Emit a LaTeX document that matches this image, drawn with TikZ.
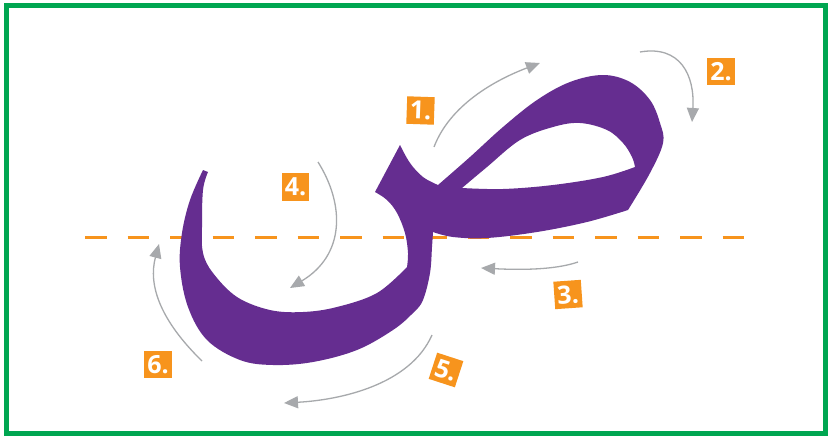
\documentclass[tikz,border=0pt]{standalone}
\usepackage{fontspec}
\setmainfont{Open Sans}
\usetikzlibrary{arrows.meta}
\definecolor{framegreen}{HTML}{00A651}
\definecolor{glyphpurple}{HTML}{652D90}
\definecolor{baseorange}{HTML}{F7941D}
\definecolor{arrowgray}{HTML}{A7A9AC}
\tikzset{
  arr/.style={draw=arrowgray, line width=1.3pt, -{Triangle[length=14pt,width=12pt]}},
  numbox/.style={fill=baseorange, text=white, minimum size=27.5pt, inner sep=0pt,
    font=\fontsize{25}{25}\selectfont\bfseries},
  baseline dash/.style={draw=baseorange, line width=3pt, dash pattern=on 21.5pt off 21pt}
}
\begin{document}
\begin{tikzpicture}[x=1pt,y=-1pt]
\useasboundingbox (0,0) rectangle (829,436);
\fill[white] (0,0) rectangle (829,436);
\draw[framegreen, line width=5pt] (6.5,5.8) rectangle (825.8,433.5);

% baseline
\coordinate (bl1) at (85,237.5);
\coordinate (bl2) at (750,237.5);
\draw[baseline dash] (bl1) -- (bl2);

% glyph
\fill[glyphpurple, even odd rule]
  (203,170) -- (208,172)
  -- plot[smooth, tension=0.6] coordinates {(208,172) (203,190) (202,227) (203,253) (213,273) (237,297) (270,310) (303,312) (337,307) (377,293) (407,267)}
  -- plot[smooth, tension=0.6] coordinates {(407,267) (408,253) (405,233) (397,213) (387,200) (375,192)}
  -- (400,145)
  -- plot[smooth, tension=0.6] coordinates {(400,145) (410,163) (423,177) (438,185)}
  -- plot[smooth, tension=0.6] coordinates {(438,185) (470,157) (503,127) (537,100) (570,82) (603,75) (630,82) (650,100) (660,123) (663,143) (650,173) (628,210)}
  -- plot[smooth, tension=0.6] coordinates {(628,210) (587,222) (537,232) (487,238) (453,237) (433,232)}
  -- plot[smooth, tension=0.6] coordinates {(433,232) (432,247) (430,273) (423,300) (413,313) (393,330) (357,350) (313,362) (273,365) (240,360) (207,340) (188,307) (180,267) (182,233) (190,200) (203,170)}
  -- cycle
  (462,188)
  -- plot[smooth, tension=0.6] coordinates {(462,188) (487,167) (520,140) (553,127) (580,123) (607,130) (623,143) (632,157) (635,167)}
  -- plot[smooth, tension=0.6] coordinates {(635,167) (603,177) (553,185) (503,189) (462,188)}
  -- cycle;

% arrows
\coordinate (a1s) at (434,147); \coordinate (a1e) at (540,63);
\coordinate (a2s) at (640,52);  \coordinate (a2e) at (692,122);
\coordinate (a3s) at (578,262); \coordinate (a3e) at (481,268);
\coordinate (a4s) at (318,162); \coordinate (a4e) at (290,288);
\coordinate (a5s) at (432,335); \coordinate (a5e) at (284,403);
\coordinate (a6s) at (202,361); \coordinate (a6e) at (159,244);
\draw[arr] (a1s) .. controls (450,105) and (495,80) .. (a1e);
\draw[arr] (a2s) .. controls (680,45) and (695,75) .. (a2e);
\draw[arr] (a3s) .. controls (555,270) and (520,270) .. (a3e);
\draw[arr] (a4s) .. controls (345,205) and (345,255) .. (a4e);
\draw[arr] (a5s) .. controls (410,385) and (340,400) .. (a5e);
\draw[arr] (a6s) .. controls (160,320) and (148,285) .. (a6e);

% labels
\node[numbox, rotate=-2] (n1) at (420.5,110.5) {1.};
\node[numbox] (n2) at (721,71.5) {2.};
\node[numbox, rotate=4] (n3) at (568,294.5) {3.};
\node[numbox] (n4) at (295.5,187) {4.};
\node[numbox, rotate=-18] (n5) at (446,370) {5.};
\node[numbox] (n6) at (158,364.5) {6.};
\end{tikzpicture}
\end{document}
